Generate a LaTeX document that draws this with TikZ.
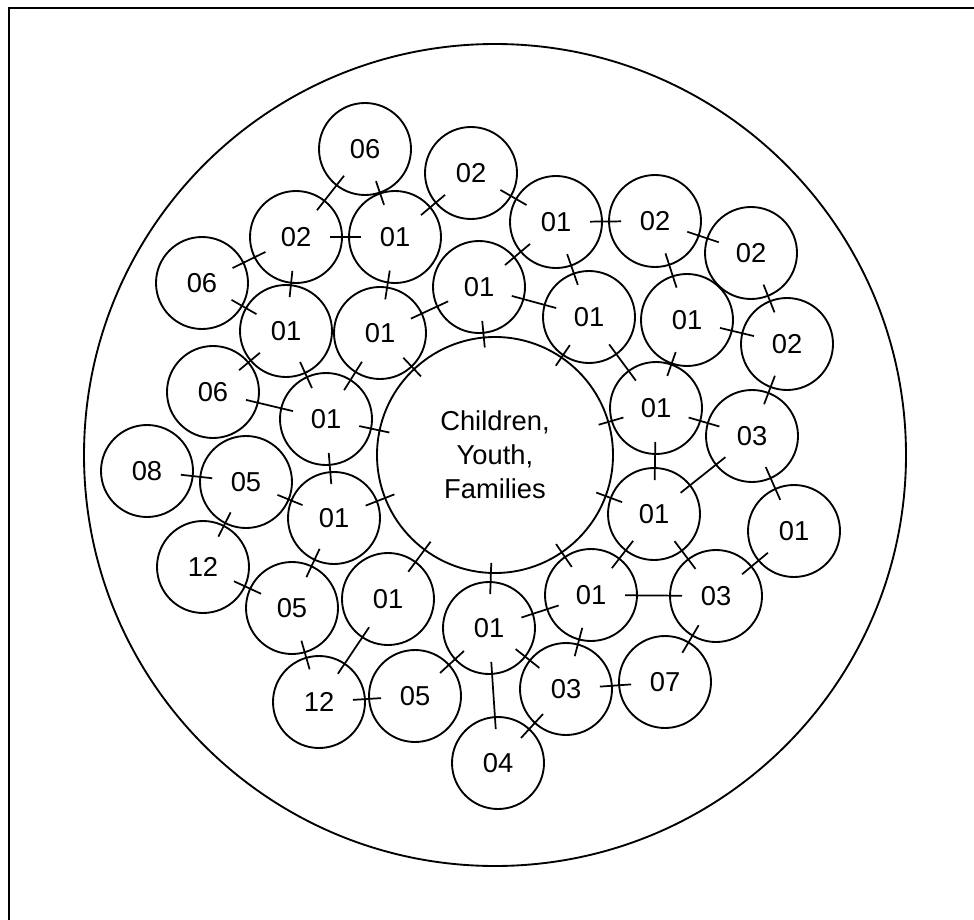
\documentclass[tikz,border=0pt]{standalone}
\usepackage{fontspec}
\newfontfamily\arial{Liberation Sans}
\begin{document}
\begin{tikzpicture}[x=0.75pt,y=-0.75pt,
  bub/.style={circle, draw, line width=1.4pt, minimum size=69pt, inner sep=0pt,
    font=\arial\fontsize{20.5}{24}\selectfont},
  hub/.style={circle, draw, line width=1.4pt, minimum size=177pt, inner sep=0pt,
    align=center, font=\arial\fontsize{20.5}{25.5}\selectfont},
  lk/.style={line width=1.3pt, shorten <=25.5pt, shorten >=25.5pt},
  lkc/.style={line width=1.3pt, shorten <=25.5pt, shorten >=81pt},
  frame/.style={line width=1.5pt}]
\useasboundingbox (0,0) rectangle (974,920);
\coordinate (fb) at (9,920);
\coordinate (fc) at (9,8);
\coordinate (fr) at (974,8);
\draw[frame] (fb) -- (fc) -- (fr);
\node[circle, draw, line width=1.4pt, minimum size=616.5pt, inner sep=0pt] (outer) at (495,455) {};
\node[hub] (C) at (495,455) {Children,\\Youth,\\Families};
\node[bub] (a1) at (365,149) {06};
\node[bub] (a2) at (296,237) {02};
\node[bub] (a3) at (395,237) {01};
\node[bub] (a4) at (471,173) {02};
\node[bub] (a5) at (556,222) {01};
\node[bub] (a6) at (655,221) {02};
\node[bub] (a7) at (751,253) {02};
\node[bub] (a8) at (202,283) {06};
\node[bub] (a9) at (479,287) {01};
\node[bub] (a10) at (589,317) {01};
\node[bub] (a11) at (687,320) {01};
\node[bub] (a12) at (787,344) {02};
\node[bub] (a13) at (286,331) {01};
\node[bub] (a14) at (380,333) {01};
\node[bub] (a15) at (213,392) {06};
\node[bub] (a16) at (326,419) {01};
\node[bub] (a17) at (656,408) {01};
\node[bub] (a18) at (752,436) {03};
\node[bub] (a19) at (147,471) {08};
\node[bub] (a20) at (246,482) {05};
\node[bub] (a21) at (334,518) {01};
\node[bub] (a22) at (654,514) {01};
\node[bub] (a23) at (794,531) {01};
\node[bub] (a24) at (203,567) {12};
\node[bub] (a25) at (292,608) {05};
\node[bub] (a26) at (388,599) {01};
\node[bub] (a27) at (489,628) {01};
\node[bub] (a28) at (591,595) {01};
\node[bub] (a29) at (716,596) {03};
\node[bub] (a30) at (319,702) {12};
\node[bub] (a31) at (415,696) {05};
\node[bub] (a32) at (566,689) {03};
\node[bub] (a33) at (665,682) {07};
\node[bub] (a34) at (498,763) {04};
\foreach \p/\q in {a1/a2,a1/a3,a2/a3,a3/a4,a2/a8,a2/a13,a3/a14,a8/a13,a14/a9,a13/a15,
  a13/a16,a14/a16,a15/a16,a4/a5,a5/a6,a5/a9,a5/a10,a6/a11,a6/a7,a9/a10,a10/a17,a11/a17,
  a7/a12,a11/a12,a12/a18,a17/a18,a17/a22,a18/a22,a18/a23,a16/a21,a19/a20,a20/a21,a20/a24,
  a21/a25,a24/a25,a25/a30,a26/a30,a22/a28,a22/a29,a23/a29,a28/a29,a28/a32,a29/a33,
  a27/a28,a30/a31,a31/a27,a27/a34,a27/a32,a34/a32,a32/a33}
  \draw[lk] (\p.center) -- (\q.center);
\foreach \p in {a14,a9,a10,a16,a21,a17,a22,a28,a26,a27}
  \draw[lkc] (\p.center) -- (C.center);
\end{tikzpicture}
\end{document}
